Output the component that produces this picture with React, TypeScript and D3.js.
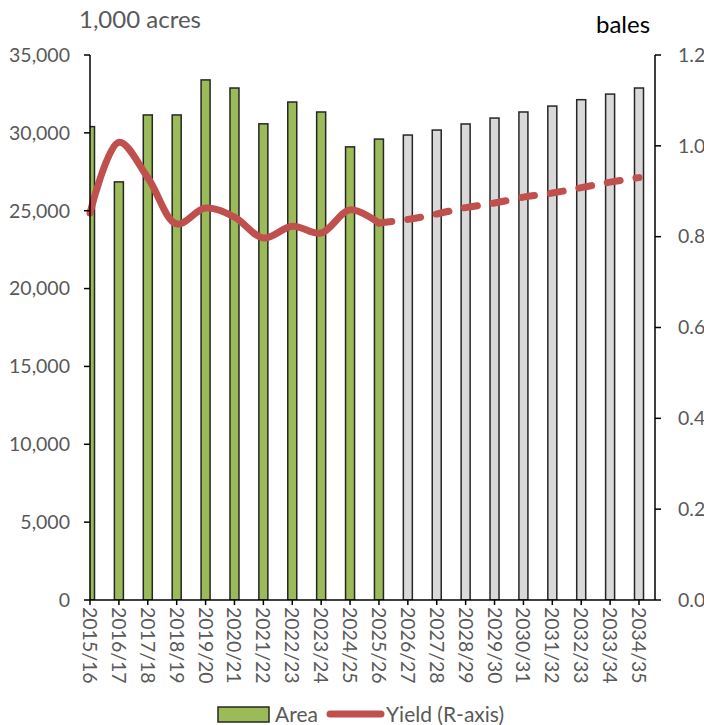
import React from "react";
import * as d3 from "d3";

const categories = [
  "2015/16", "2016/17", "2017/18", "2018/19", "2019/20", "2020/21", "2021/22",
  "2022/23", "2023/24", "2024/25", "2025/26", "2026/27", "2027/28", "2028/29",
  "2029/30", "2030/31", "2031/32", "2032/33", "2033/34", "2034/35",
];
const area = [
  30400, 26850, 31150, 31150, 33400, 32880, 30580, 31980, 31340, 29100, 29600,
  29860, 30180, 30570, 30950, 31340, 31720, 32130, 32490, 32880,
];
const yieldVals = [
  0.852, 1.008, 0.93, 0.828, 0.863, 0.843, 0.797, 0.823, 0.808, 0.859, 0.83,
  0.838, 0.85, 0.864, 0.874, 0.887, 0.896, 0.908, 0.92, 0.93,
];
const projectedFrom = 11; // first projected index
const leftTicks = [0, 5000, 10000, 15000, 20000, 25000, 30000, 35000];
const rightTicks = [0, 0.2, 0.4, 0.6, 0.8, 1.0, 1.2];

const FONT = "Lato, 'Open Sans', sans-serif";
const GREY = "#595959";

export default function App() {
  const W = 704, H = 725;
  const left = 90, right = 655, top = 55, bottom = 600;
  const x = d3.scalePoint<string>().domain(categories).range([left, 639]);
  const yL = d3.scaleLinear().domain([0, 35000]).range([bottom, top]);
  const yR = d3.scaleLinear().domain([0, 1.2]).range([bottom, top]);
  const barW = 9;
  const tickFont = 19.5;

  const pts = categories.map((c, i) => [x(c)!, yR(yieldVals[i])] as [number, number]);
  const line = d3.line().curve(d3.curveCatmullRom.alpha(0.5));
  const solid = line(pts.slice(0, projectedFrom))!;
  const dashed = line(pts.slice(projectedFrom - 1))!;

  return (
    <svg width={W} height={H} style={{ position: "absolute", left: 0, top: 0 }} fontFamily={FONT}>
      <defs>
        <clipPath id="plot">
          <rect x={left} y={0} width={right - left} height={bottom} />
        </clipPath>
      </defs>
      <text x={79} y={28} fontSize={24} fill={GREY}>1,000 acres</text>
      <text x={596} y={33} fontSize={24} fill="#000">bales</text>

      <g clipPath="url(#plot)">
        {categories.map((c, i) => (
          <rect
            key={c}
            x={x(c)! - barW / 2}
            y={yL(area[i])}
            width={barW}
            height={bottom - yL(area[i])}
            fill={i < projectedFrom ? "#9BBB59" : "#D9D9D9"}
            stroke="#262626"
            strokeWidth={1.5}
          />
        ))}
      </g>

      <path d={solid} fill="none" stroke="#C0504D" strokeWidth={7} strokeLinecap="round" />
      <path d={dashed} fill="none" stroke="#C0504D" strokeWidth={7} strokeLinecap="round" strokeDasharray="13,16" />

      {/* left axis */}
      <line x1={left} x2={left} y1={top} y2={bottom} stroke="#000" strokeWidth={1.5} />
      {leftTicks.map((t) => (
        <g key={t}>
          <line x1={left - 6} x2={left} y1={yL(t)} y2={yL(t)} stroke="#000" strokeWidth={1.5} />
          <text x={70} y={yL(t)} dy="0.35em" textAnchor="end" fontSize={tickFont} fill={GREY}>
            {d3.format(",")(t)}
          </text>
        </g>
      ))}

      {/* right axis */}
      <line x1={right} x2={right} y1={top} y2={bottom} stroke="#000" strokeWidth={1.5} />
      {rightTicks.map((t) => (
        <g key={t}>
          <line x1={right} x2={right + 6} y1={yR(t)} y2={yR(t)} stroke="#000" strokeWidth={1.5} />
          <text x={678} y={yR(t)} dy="0.35em" fontSize={tickFont} fill={GREY}>
            {t.toFixed(1)}
          </text>
        </g>
      ))}

      {/* x axis */}
      <line x1={left} x2={right} y1={bottom} y2={bottom} stroke="#000" strokeWidth={1.5} />
      {categories.map((c) => (
        <g key={c}>
          <line x1={x(c)!} x2={x(c)!} y1={bottom} y2={bottom + 5} stroke="#000" strokeWidth={1.5} />
          <text
            transform={`translate(${x(c)! - 7},${bottom + 7}) rotate(90)`}
            fontSize={tickFont}
            fill={GREY}
          >
            {c}
          </text>
        </g>
      ))}

      {/* legend */}
      <rect x={218} y={707} width={51} height={15} fill="#9BBB59" stroke="#262626" strokeWidth={1.5} />
      <text x={275} y={722} fontSize={21} fill={GREY}>Area</text>
      <line x1={330} x2={381} y1={714} y2={714} stroke="#C0504D" strokeWidth={7} strokeLinecap="round" />
      <text x={386} y={722} fontSize={21} fill={GREY}>Yield (R-axis)</text>
    </svg>
  );
}
